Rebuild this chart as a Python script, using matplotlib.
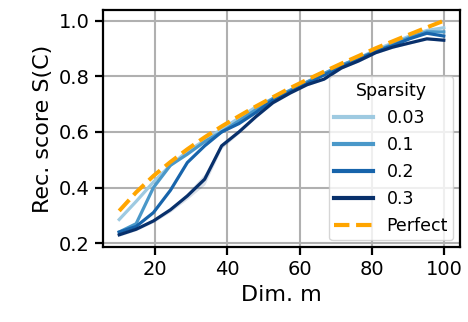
import matplotlib
matplotlib.use("Agg")
import matplotlib.pyplot as plt

# dimension m (20 evenly spaced values between 10 and 100)
dims = [10.0, 14.7, 19.5, 24.2, 28.9, 33.7, 38.4, 43.2, 47.9, 52.6,
        57.4, 62.1, 66.8, 71.6, 76.3, 81.1, 85.8, 90.5, 95.3, 100.0]

sparsity_labels = ["0.03", "0.1", "0.2", "0.3"]
score_003 = [0.285, 0.35, 0.42, 0.48, 0.53, 0.57, 0.61, 0.65, 0.69, 0.72,
             0.75, 0.78, 0.81, 0.84, 0.865, 0.895, 0.92, 0.945, 0.965, 0.975]
score_01 = [0.24, 0.27, 0.40, 0.48, 0.52, 0.565, 0.60, 0.64, 0.68, 0.72,
            0.75, 0.78, 0.81, 0.84, 0.865, 0.89, 0.915, 0.94, 0.96, 0.96]
score_02 = [0.24, 0.26, 0.31, 0.39, 0.49, 0.55, 0.60, 0.63, 0.67, 0.715,
            0.745, 0.775, 0.805, 0.835, 0.86, 0.89, 0.91, 0.935, 0.955, 0.945]
score_03 = [0.23, 0.25, 0.28, 0.32, 0.37, 0.43, 0.55, 0.60, 0.655, 0.705,
            0.74, 0.77, 0.79, 0.83, 0.855, 0.885, 0.905, 0.92, 0.935, 0.93]
# spread across runs (shaded band)
spread_03 = [0.005, 0.005, 0.006, 0.008, 0.012, 0.02, 0.01, 0.006, 0.005, 0.005,
             0.004, 0.004, 0.004, 0.004, 0.004, 0.004, 0.004, 0.004, 0.004, 0.004]
perfect = [0.316, 0.383, 0.442, 0.492, 0.538, 0.581, 0.620, 0.657, 0.692, 0.725,
           0.758, 0.788, 0.817, 0.846, 0.873, 0.901, 0.926, 0.951, 0.976, 1.0]

colors = ["#9ecae1", "#4a98c9", "#1764ab", "#08306b"]

plt.rcParams["font.size"] = 14
fig, ax = plt.subplots(figsize=(4.68, 3.22), dpi=100)

all_scores = [score_003, score_01, score_02, score_03]
for lab, sc, c in zip(sparsity_labels, all_scores, colors):
    ax.plot(dims, sc, color=c, lw=2.3, label=lab)
lo = [s - e for s, e in zip(score_03, spread_03)]
hi = [s + e for s, e in zip(score_03, spread_03)]
ax.fill_between(dims, lo, hi, color=colors[3], alpha=0.15, lw=0)
ax.plot(dims, perfect, color="orange", lw=2.9, ls="--", label="Perfect")

ax.grid(True, color="#b0b0b0", lw=1.5)
ax.set_axisbelow(True)
for sp in ax.spines.values():
    sp.set_linewidth(1.6)
ax.tick_params(width=1.6, length=6, labelsize=14)
ax.set_yticks([0.2, 0.4, 0.6, 0.8, 1.0])
ax.set_xticks([20, 40, 60, 80, 100])
ax.set_xlabel("Dim. m", fontsize=16)
ax.set_ylabel("Rec. score S(C)", fontsize=16)
leg = ax.legend(title="Sparsity", loc="lower right", fontsize=12.5, title_fontsize=12.5,
                handlelength=2.2, borderaxespad=0.4, labelspacing=0.52,
                borderpad=0.3, handletextpad=0.8)
for h in leg.get_lines():
    h.set_linewidth(3)

fig.subplots_adjust(left=0.22, right=0.983, top=0.969, bottom=0.233)
fig.savefig("out.png")
